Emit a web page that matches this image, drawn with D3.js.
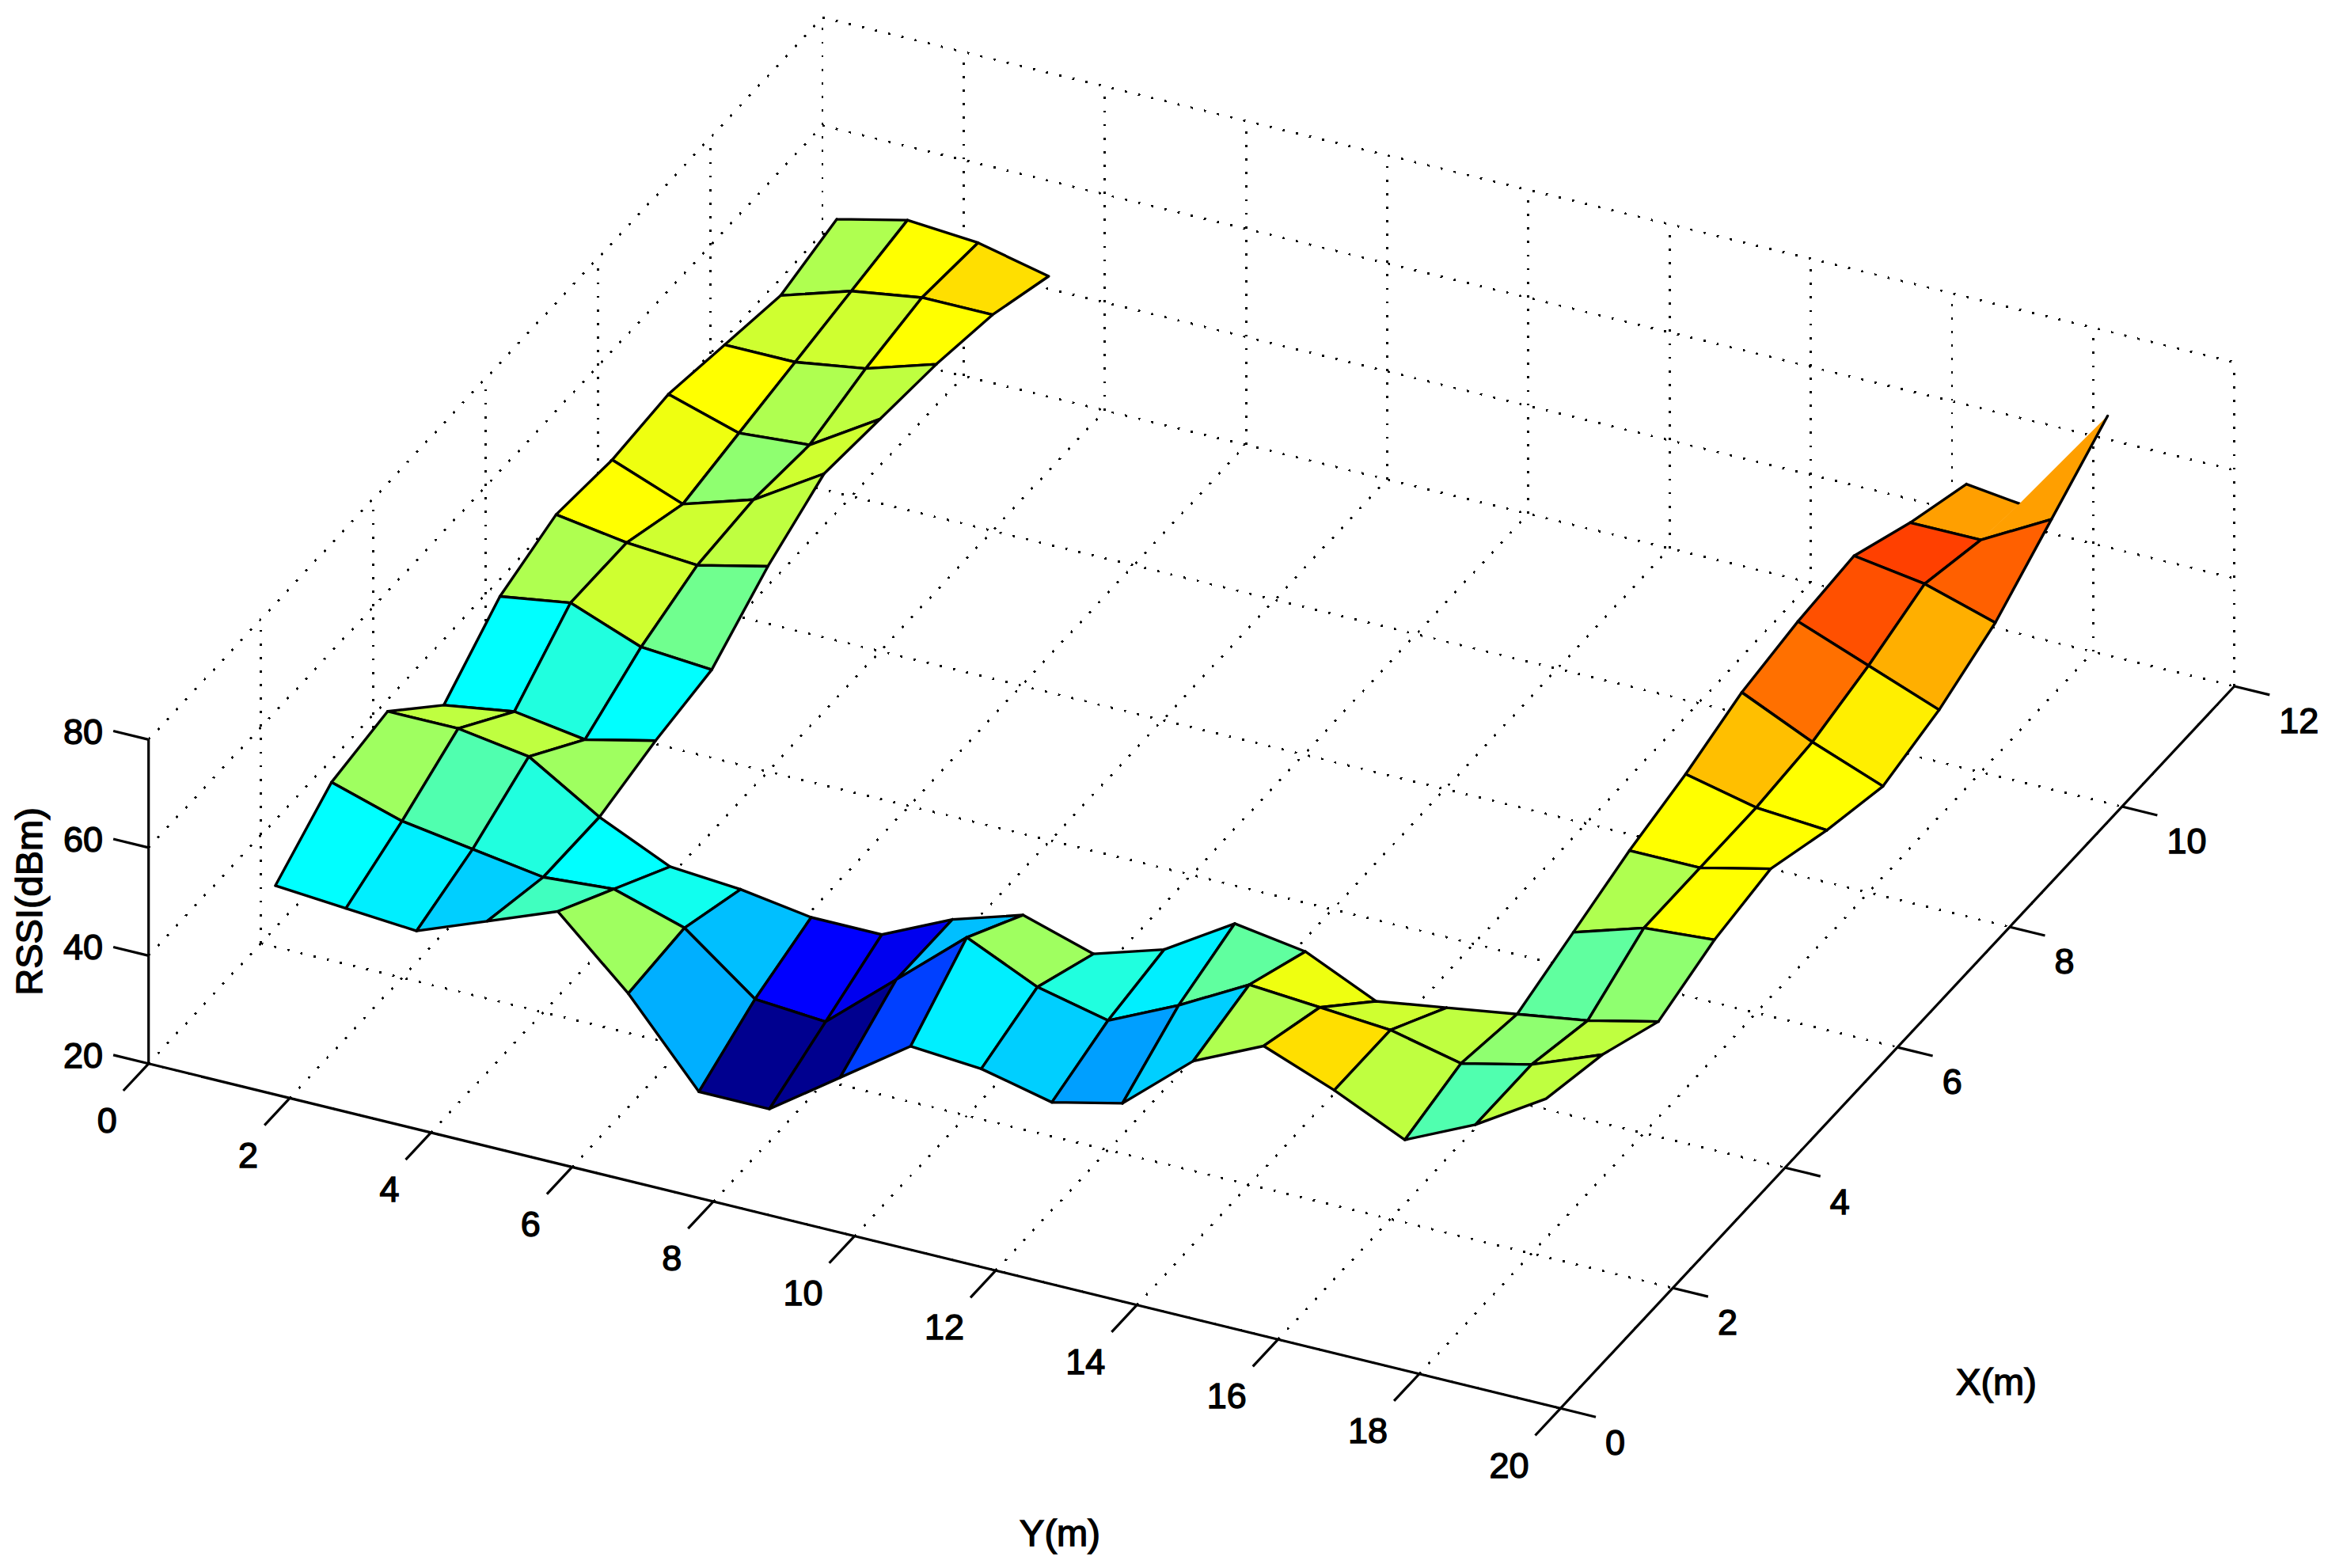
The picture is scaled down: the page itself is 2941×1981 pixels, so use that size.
<!DOCTYPE html>
<html>
<head>
<meta charset="utf-8">
<title>RSSI surface</title>
<style>
html,body{margin:0;padding:0;background:#fff;}
svg{display:block;}
text{font-family:"Liberation Sans",Arial,sans-serif;fill:#000;stroke:#000;stroke-width:1.4px;}
</style>
<script src="https://cdn.jsdelivr.net/npm/d3@7/dist/d3.min.js"></script>
</head>
<body>
<svg id="chart" width="2941" height="1981"></svg>
<script>
// Tick labels
const xTicks = [0,2,4,6,8,10,12];
const yTicks = [0,2,4,6,8,10,12,14,16,18,20];
const zTicks = [20,40,60,80];

// Mesh coordinates
const gridY = [1,2,3,4,5,6,7,8,9,10,11,12,13,14,15,16,17,18,19];
const gridX = [1,2,3,4,5,6,7,8,9,10,11];

// RSSI (dBm) along Y = 1..19, one list per X; null = not measured
const n = null;
const rssiX1  = [45,44,43,48,53,41,26,26,35,44,43,40,43,54,60,55,49,55,63];
const rssiX2  = [53,49,47,45,46,42,32,31,42,53,47,44,50,57,56,55,52,55,60];
const rssiX3  = [55,55,53,45,39,38,36,36,42,46,42,46,54,52,46,48,50,52,55];
const rssiX4  = [45,47,45,48,n,n,n,n,n,n,n,n,n,n,n,n,54,58,59];
const rssiX5  = [54,56,51,50,n,n,n,n,n,n,n,n,n,n,n,n,58,58,61];
const rssiX6  = [58,56,55,58,n,n,n,n,n,n,n,n,n,n,n,n,61,58,57];
const rssiX7  = [57,52,56,64,n,n,n,n,n,n,n,n,n,n,n,n,65,59,54];
const rssiX8  = [58,54,55,63,n,n,n,n,n,n,n,n,n,n,n,n,67,62,57];
const rssiX9  = [56,56,58,62,n,n,n,n,n,n,n,n,n,n,n,n,68,66,62];
const rssiX10 = [54,58,60,60,n,n,n,n,n,n,n,n,n,n,n,n,63,63,70];
const rssiX11 = [57,60,59,56,n,n,n,n,n,n,n,n,n,n,n,n,59,62,78];
const rssi = [rssiX1,rssiX2,rssiX3,rssiX4,rssiX5,rssiX6,rssiX7,rssiX8,rssiX9,rssiX10,rssiX11];

// The one sample taken off the regular grid, at Y = 18 on the last row
const offGridSample = {row:10, col:17, x:10.69};

// Segments of the mesh outline that the original does not stroke
const unstrokedEdges = ["17,9|17,10","17,10|18,10"];

// Projection built from three linear scales
const origin = [187.7,1343.8];
const yToScreen = d3.scaleLinear().domain([0,20]).range([[0,0],[1783.7,435.5]]);
const xToScreen = d3.scaleLinear().domain([0,12]).range([[0,0],[851.3,-912.3]]);
const zToScreen = d3.scaleLinear().domain([20,80]).range([0,-409.4]);
function project(x,y,z){
  const a = yToScreen(y), b = xToScreen(x), c = zToScreen(z);
  return [origin[0]+a[0]+b[0], origin[1]+a[1]+b[1]+c];
}

// MATLAB jet(64)
function jet64(i){
  const u = p => p<1||p>47 ? 0 : p<=16 ? p/16 : p<=31 ? 1 : (48-p)/16;
  return d3.rgb(Math.round(255*u(i-24)),Math.round(255*u(i-8)),Math.round(255*u(i+8))).formatHex();
}
const flat = rssi.flat().filter(v=>v!==null);
const zMin = d3.min(flat), zMax = d3.max(flat);
const colorIndex = d3.scaleLinear().domain([zMin,zMax]).range([0,64]);
const colorOf = z => jet64(Math.min(64,Math.floor(colorIndex(z))+1));

const svg = d3.select("#chart");
const line = d3.line();

// Dotted grid
const grid = svg.append("g").attr("fill","none").attr("stroke","#000")
  .attr("stroke-width",2.8).attr("stroke-dasharray","2.8 14.3").attr("shape-rendering","crispEdges");
function gridLine(a,b){ grid.append("path").attr("d",line([project(...a),project(...b)])); }
const xEnd=12,yEnd=20,zLo=20,zHi=80;
zTicks.forEach(z=>{ gridLine([0,0,z],[xEnd,0,z]); gridLine([xEnd,0,z],[xEnd,yEnd,z]); });
xTicks.forEach(x=>{ gridLine([x,0,zLo],[x,yEnd,zLo]); if(x>0) gridLine([x,0,zLo],[x,0,zHi]); });
yTicks.forEach(y=>{ gridLine([0,y,zLo],[xEnd,y,zLo]); gridLine([xEnd,y,zLo],[xEnd,y,zHi]); });

// Surface, far cells first
function vertex(r,c){
  const x = (r===offGridSample.row&&c===offGridSample.col) ? offGridSample.x : gridX[r];
  return project(x,gridY[c],rssi[r][c]);
}
const surface = svg.append("g");
for(let r=gridX.length-2;r>=0;r--){
  for(let c=0;c<gridY.length-1;c++){
    const corners=[[r,c],[r,c+1],[r+1,c+1],[r+1,c]];
    if(corners.some(([a,b])=>rssi[a][b]===null)) continue;
    const pts=corners.map(([a,b])=>vertex(a,b));
    surface.append("path").attr("d",line(pts)+"Z").attr("fill",colorOf(rssi[r][c])).attr("stroke",colorOf(rssi[r][c])).attr("stroke-width",.6);
    let d="";
    corners.forEach((p,i)=>{
      const q=corners[(i+1)%4];
      const k1=p[1]+","+p[0]+"|"+q[1]+","+q[0], k2=q[1]+","+q[0]+"|"+p[1]+","+p[0];
      if(unstrokedEdges.includes(k1)||unstrokedEdges.includes(k2)) return;
      d+=line([vertex(...p),vertex(...q)]);
    });
    surface.append("path").attr("d",d).attr("fill","none").attr("stroke","#000")
      .attr("stroke-width",3.4).attr("stroke-linecap","round");
  }
}

// Axes
const axes = svg.append("g").attr("fill","none").attr("stroke","#000").attr("stroke-width",3.2);
function axisLine(a,b){ axes.append("path").attr("d",line([project(...a),project(...b)])); }
axisLine([0,0,zLo],[0,0,zHi]);
axisLine([0,0,zLo],[0,yEnd,zLo]);
axisLine([0,yEnd,zLo],[xEnd,yEnd,zLo]);
const tickX=.45,tickY=.5;
const labels = svg.append("g").attr("font-size",45);
zTicks.forEach(z=>{
  axisLine([0,0,z],[0,-tickY,z]);
  const e=project(0,-tickY,z);
  labels.append("text").attr("x",e[0]-13).attr("y",e[1]+16).attr("text-anchor","end").text(z);
});
yTicks.forEach(y=>{
  axisLine([0,y,zLo],[-tickX,y,zLo]);
  const e=project(-tickX,y,zLo);
  labels.append("text").attr("x",e[0]-8).attr("y",e[1]+53).attr("text-anchor","end").text(y);
});
xTicks.forEach(x=>{
  axisLine([x,yEnd,zLo],[x,yEnd+tickY,zLo]);
  const e=project(x,yEnd+tickY,zLo);
  labels.append("text").attr("x",e[0]+12).attr("y",e[1]+48).attr("text-anchor","start").text(x);
});

// Axis titles
const titles = svg.append("g").attr("font-size",47);
titles.append("text").attr("x",2522).attr("y",1762).attr("text-anchor","middle").text("X(m)");
titles.append("text").attr("x",1339).attr("y",1953).attr("text-anchor","middle").text("Y(m)");
titles.append("text").attr("transform","translate(53,1139) rotate(-90)").attr("text-anchor","middle").text("RSSI(dBm)");
</script>
</body>
</html>
